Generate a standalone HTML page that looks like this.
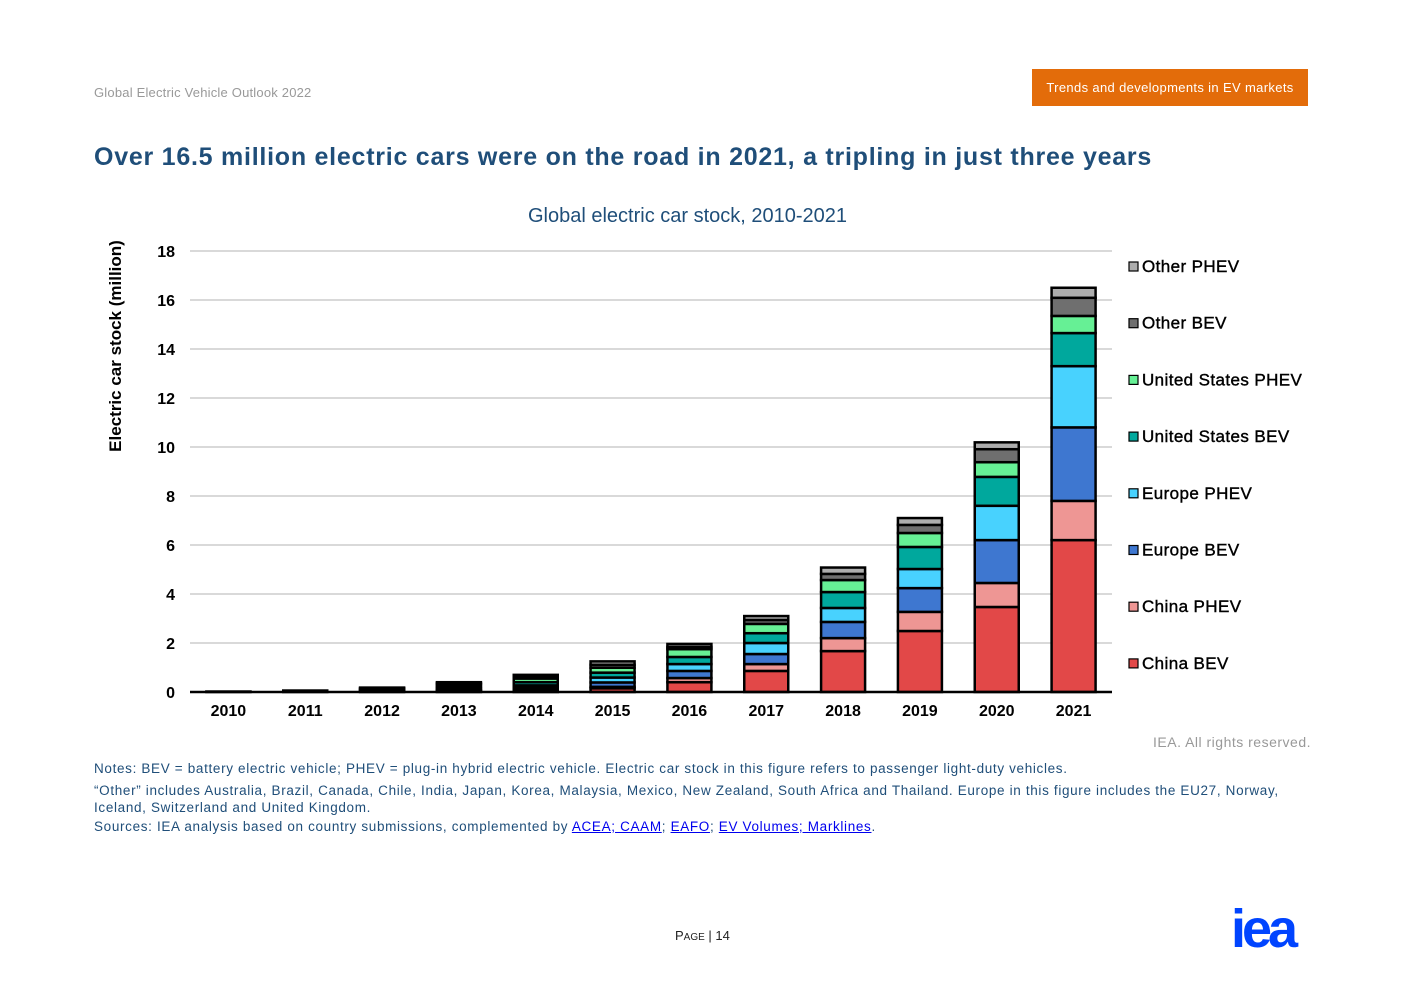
<!DOCTYPE html>
<html><head><meta charset="utf-8"><style>
body{margin:0;width:1403px;height:992px;background:#fff;font-family:"Liberation Sans",Arial,sans-serif;position:relative;overflow:hidden}
.a{position:absolute;white-space:nowrap}
.n{color:#1f4e79;font-size:13.5px;letter-spacing:0.66px}
a{color:#0000ee;text-decoration:underline}
</style></head><body>
<div class="a" style="left:94px;top:85px;font-size:13px;color:#999;letter-spacing:0.2px">Global Electric Vehicle Outlook 2022</div>
<div class="a" style="left:1032px;top:69px;width:276px;height:37px;background:#e36c0a;color:#fff;font-size:13px;line-height:37px;text-align:center;letter-spacing:0.35px">Trends and developments in EV markets</div>
<div class="a" style="left:94px;top:143px;font-size:25px;font-weight:bold;color:#1f4e79;letter-spacing:0.75px">Over 16.5 million electric cars were on the road in 2021, a tripling in just three years</div>
<div class="a" style="left:0;width:1375px;text-align:center;top:205px;font-size:20px;color:#1f4e79">Global electric car stock, 2010-2021</div>
<svg class="a" style="left:0;top:0" width="1403" height="992" id="chart"></svg>
<div class="a" style="left:1153px;top:734px;font-size:14px;color:#999;letter-spacing:0.5px">IEA. All rights reserved.</div>
<div class="a n" style="left:94px;top:761px">Notes: BEV = battery electric vehicle; PHEV = plug-in hybrid electric vehicle. Electric car stock in this figure refers to passenger light-duty vehicles.</div>
<div class="a n" style="left:94px;top:782px;white-space:normal;width:1200px;line-height:17px">“Other” includes Australia, Brazil, Canada, Chile, India, Japan, Korea, Malaysia, Mexico, New Zealand, South Africa and Thailand. Europe in this figure includes the EU27, Norway, Iceland, Switzerland and United Kingdom.</div>
<div class="a n" style="left:94px;top:819px">Sources: IEA analysis based on country submissions, complemented by <a>ACEA; CAAM</a>; <a>EAFO</a>; <a>EV Volumes; Marklines</a>.</div>
<div class="a" style="left:675px;top:928px;font-size:13px;color:#222">P<span style="font-size:10px">AGE</span> | 14</div>
<div class="a" style="left:1231px;top:898px;font-size:54px;font-weight:bold;color:#0044ff;letter-spacing:-4px">iea</div>
<script>
const years=['2010','2011','2012','2013','2014','2015','2016','2017','2018','2019','2020','2021'];
const seriesNames=['China BEV','China PHEV','Europe BEV','Europe PHEV','United States BEV','United States PHEV','Other BEV','Other PHEV'];
const chinaBEV=[0,0,0.01,0.02,0.05,0.15,0.4,0.86,1.67,2.49,3.47,6.2];
const chinaPHEV=[0,0,0,0.01,0.02,0.06,0.17,0.28,0.53,0.78,0.98,1.6];
const europeBEV=[0,0.01,0.02,0.05,0.1,0.18,0.29,0.41,0.66,0.97,1.75,3.0];
const europePHEV=[0,0,0.02,0.05,0.1,0.2,0.28,0.45,0.57,0.78,1.4,2.5];
const usBEV=[0.01,0.02,0.04,0.08,0.13,0.2,0.29,0.4,0.65,0.9,1.18,1.35];
const usPHEV=[0,0.01,0.04,0.1,0.15,0.2,0.32,0.38,0.49,0.57,0.6,0.7];
const otherBEV=[0.01,0.01,0.03,0.05,0.08,0.12,0.09,0.16,0.25,0.33,0.53,0.74];
const otherPHEV=[0,0.01,0.02,0.04,0.07,0.14,0.12,0.16,0.26,0.28,0.28,0.41];
const yTicks=[0,2,4,6,8,10,12,14,16,18];
const series=[chinaBEV,chinaPHEV,europeBEV,europePHEV,usBEV,usPHEV,otherBEV,otherPHEV];
const colors=['#e24848','#ee9694','#3e77d0','#48d2fe','#00a89d','#66f095','#6f6f6f','#adadad'];
const svg=document.getElementById('chart');const NS='http://www.w3.org/2000/svg';
const y0=692,y1=251,x0=190,x1=1112;
const Y=v=>y0-(y0-y1)*v/18;
const X=i=>x0+(x1-x0)*(i+0.5)/years.length;
function mk(t,a){const e=document.createElementNS(NS,t);for(const k in a)e.setAttribute(k,a[k]);svg.appendChild(e);return e;}
yTicks.forEach(t=>{
 if(t>0){const g=mk('line',{x1:x0,x2:x1,y1:Y(t),y2:Y(t),stroke:'#d9d9d9','stroke-width':2});
 
 }
 const l=mk('text',{x:175,y:Y(t)+6,'text-anchor':'end','font-size':16,'font-weight':'bold',fill:'#000'});l.textContent=t;
 
 
});
years.forEach((yr,i)=>{
 let acc=0;
 series.forEach((s,k)=>{const v=s[i];if(v<=0)return;
  const r=mk('rect',{x:X(i)-22,y:Y(acc+v),width:44,height:Y(acc)-Y(acc+v),fill:colors[k],stroke:'#000','stroke-width':2.5});
  
  
  acc+=v;});
 const t=mk('text',{x:X(i),y:716,'text-anchor':'middle','font-size':16,'font-weight':'bold',fill:'#000'});t.textContent=yr;
 
 
});
const ax=mk('line',{x1:x0,x2:x1,y1:y0,y2:y0,stroke:'#000','stroke-width':2.5});


const yt=mk('text',{x:0,y:0,transform:'translate(121,346) rotate(-90)','text-anchor':'middle','font-size':17,'font-weight':'bold',fill:'#000'});yt.textContent='Electric car stock (million)';


for(let k=7;k>=0;k--){const yy=266+(7-k)*56.7;
 const r=mk('rect',{x:1129,y:yy-4,width:9,height:9,fill:colors[k],stroke:'#000','stroke-width':1.2});
 
 
 const t=mk('text',{x:1142,y:yy+6,'font-size':17,fill:'#000',stroke:'#000','stroke-width':0.4,'letter-spacing':0.4});t.textContent=seriesNames[k];
 
 }
</script>
</body></html>
